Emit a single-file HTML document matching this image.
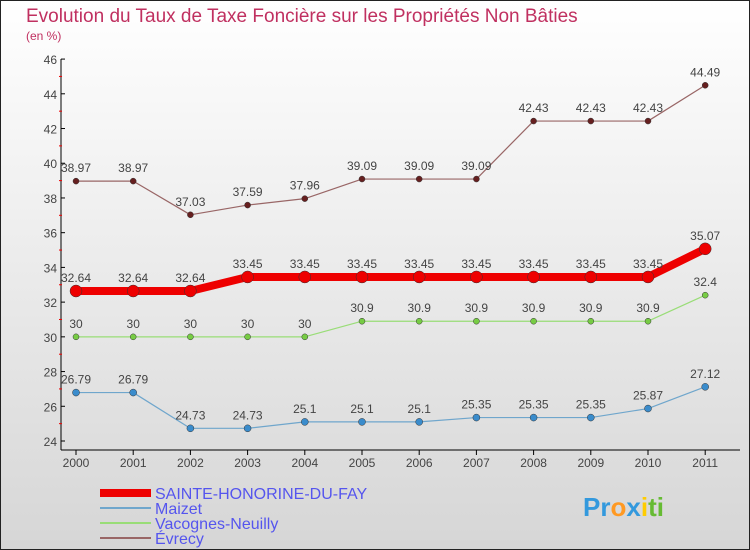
<!DOCTYPE html>
<html><head><meta charset="utf-8"><style>
body{margin:0}
#c{width:750px;height:550px;position:relative;box-sizing:border-box;border:1px solid #222;background:linear-gradient(#fff,#d6d6d6);font-family:"Liberation Sans",sans-serif;overflow:hidden}
</style></head><body>
<div id="c">
<svg id="s" width="750" height="550" style="position:absolute;left:-1px;top:-1px">
<text x="26" y="22" font-size="19" fill="#c03060">Evolution du Taux de Taxe Foncière sur les Propriétés Non Bâties</text>
<text x="26" y="40" font-size="12" fill="#c03060">(en %)</text>
<g id="g"></g>
<g font-size="16" fill="#5555ee">
<rect x="100" y="489" width="51" height="8" fill="#e00"/>
<text x="155" y="499">SAINTE-HONORINE-DU-FAY</text>
<rect x="100" y="507" width="51" height="2" fill="#6fa6cc"/>
<text x="155" y="514">Maizet</text>
<rect x="100" y="522" width="51" height="2" fill="#99dd77"/>
<text x="155" y="529">Vacognes-Neuilly</text>
<rect x="100" y="537" width="51" height="2" fill="#996666"/>
<text x="155" y="544">Évrecy</text>
</g>
<g font-size="26" font-weight="bold">
<text x="583" y="516"><tspan fill="#3399dd">Pr</tspan><tspan fill="#ff9922">o</tspan><tspan fill="#3399dd">x</tspan><tspan fill="#ffcc00">i</tspan><tspan fill="#66bb33">ti</tspan></text>
</g>
</svg>
</div>
<script>
const years=["2000","2001","2002","2003","2004","2005","2006","2007","2008","2009","2010","2011"];
const yTicks=[24,26,28,30,32,34,36,38,40,42,44,46];
const sainte=[32.64,32.64,32.64,33.45,33.45,33.45,33.45,33.45,33.45,33.45,33.45,35.07];
const maizet=[26.79,26.79,24.73,24.73,25.1,25.1,25.1,25.35,25.35,25.35,25.87,27.12];
const vacognes=[30,30,30,30,30,30.9,30.9,30.9,30.9,30.9,30.9,32.4];
const evrecy=[38.97,38.97,37.03,37.59,37.96,39.09,39.09,39.09,42.43,42.43,42.43,44.49];
const NS="http://www.w3.org/2000/svg";
const g=document.getElementById('g');
const X=i=>76+i*57.2;
const Y=v=>441-(v-24)*17.36;
function el(t,a,p){const e=document.createElementNS(NS,t);for(const k in a)e.setAttribute(k,a[k]);(p||g).appendChild(e);return e;}
let ax=el('line',{x1:61,y1:59,x2:61,y2:450,stroke:'#000','stroke-width':1});


let xx=el('line',{x1:61,y1:450,x2:740,y2:450,stroke:'#000','stroke-width':1});


yTicks.forEach(v=>{
 el('line',{x1:61,y1:Y(v),x2:65,y2:Y(v),stroke:'#000'});
 if(v<46) el('line',{x1:59,y1:Y(v+1),x2:62,y2:Y(v+1),stroke:'#e00'});
 const t=el('text',{x:57,y:Y(v)+5,'font-size':12,fill:'#444','text-anchor':'end'});t.textContent=v;
 
 
});
years.forEach((y,i)=>{
 el('line',{x1:X(i),y1:450,x2:X(i),y2:455,stroke:'#000'});
 const t=el('text',{x:X(i),y:467,'font-size':12,fill:'#444','text-anchor':'middle'});t.textContent=y;
 
 
});
function series(d,name,col,w,r,dot){
 const s=el('g',{});
 
 
 el('polyline',{points:d.map((v,i)=>X(i)+','+Y(v)).join(' '),fill:'none',stroke:col,'stroke-width':w,'stroke-linejoin':'round'},s);
 d.forEach((v,i)=>{
  const c=el('circle',{cx:X(i),cy:Y(v),r:r,fill:dot,stroke:'#333','stroke-width':0.5},s);
  
  
  const t=el('text',{x:X(i),y:Y(v)-9,'font-size':12,fill:'#444','text-anchor':'middle'},s);t.textContent=v;
 });
}
series(evrecy,'evrecy','#996666',1.2,3,'#661f1f');
series(vacognes,'vacognes','#99dd77',1.2,3,'#77cc44');
series(maizet,'maizet','#6fa6cc',1.2,3.5,'#3a8ccc');
series(sainte,'sainte-honorine','#ee0000',8,6,'#ee0000');
</script>
</body></html>
